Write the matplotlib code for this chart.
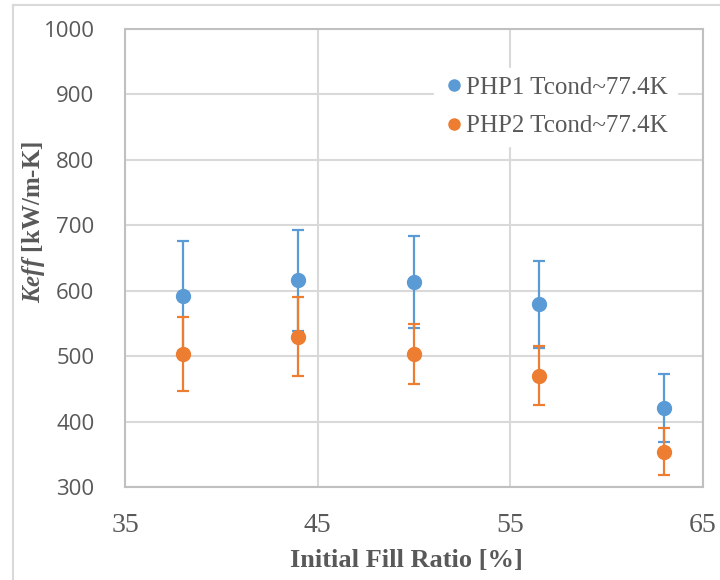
import matplotlib
matplotlib.use("Agg")
import matplotlib.pyplot as plt
from matplotlib.lines import Line2D

plt.rcParams["mathtext.fontset"] = "custom"
plt.rcParams["mathtext.it"] = "Liberation Serif:italic:bold"
plt.rcParams["mathtext.rm"] = "Liberation Serif:bold"
plt.rcParams["mathtext.bf"] = "Liberation Serif:bold"

# Data
fill_ratio = [38, 44, 50, 56.5, 63]
php1_keff = [592, 616, 613, 579, 421]
php1_err = [84, 77, 70, 67, 52]
php2_keff = [503, 530, 503, 470, 354]
php2_err = [57, 61, 46, 45, 36]
series_labels = ["PHP1 Tcond~77.4K", "PHP2 Tcond~77.4K"]
x_ticks = [35, 45, 55, 65]
y_ticks = [300, 400, 500, 600, 700, 800, 900, 1000]

blue = "#5b9bd5"
orange = "#ed7d31"
grid_c = "#d9d9d9"
text_c = "#595959"

fig = plt.figure(figsize=(7.2, 5.8), dpi=100)
ax = fig.add_axes([125/720, 1 - 487/580, (703-125)/720, (487-29)/580])

for x, y, e, c in [(fill_ratio, php1_keff, php1_err, blue),
                   (fill_ratio, php2_keff, php2_err, orange)]:
    ax.errorbar(x, y, yerr=e, fmt="o", color=c, ecolor=c, markersize=10,
                elinewidth=1.6, capsize=4, capthick=1.6, zorder=3)

ax.set_xlim(35, 65)
ax.set_ylim(300, 1000)
ax.set_xticks(x_ticks)
ax.set_yticks(y_ticks)
ax.set_xticklabels([str(v) for v in x_ticks], fontfamily="Liberation Serif",
                   fontsize=20, color=text_c)
ax.set_yticklabels([str(v) for v in y_ticks], fontfamily="Open Sans",
                   fontsize=16, color=text_c)
ax.grid(True, color=grid_c, linewidth=1.5, zorder=0)
ax.set_axisbelow(True)
for s in ax.spines.values():
    s.set_color("#c0c0c0")
    s.set_linewidth(1.5)
ax.tick_params(length=0)
ax.tick_params(axis="x", pad=19)
ax.tick_params(axis="y", pad=22)

fig.text(406/720, 1 - 561/580, "Initial Fill Ratio [%]", ha="center", va="center",
         fontfamily="Liberation Serif", fontweight="bold", fontsize=19, color=text_c)
fig.text(34/720, 1 - 222/580, r"$\mathit{Keff}$ [kW/m-K]", rotation=90,
         ha="center", va="center", fontfamily="Liberation Serif", fontweight="bold",
         fontsize=18, color=text_c)

handles = [Line2D([], [], marker="o", linestyle="none", color=blue, markersize=8),
           Line2D([], [], marker="o", linestyle="none", color=orange, markersize=8)]
leg = ax.legend(handles, series_labels, loc="upper left",
                bbox_to_anchor=((421-125)/578, 1 - (55-29)/458),
                frameon=True, framealpha=1, edgecolor="white", facecolor="white",
                prop={"family": "Liberation Serif", "size": 18},
                handletextpad=0.05, handlelength=0.9, labelspacing=0.65,
                borderpad=0.35, fancybox=False)
for t in leg.get_texts():
    t.set_color(text_c)

# outer chart border (top and left)
fig.add_artist(Line2D([13/720, 1], [1 - 5/580, 1 - 5/580], color="#d9d9d9", linewidth=1.5,
                      transform=fig.transFigure))
fig.add_artist(Line2D([13/720, 13/720], [0, 1 - 5/580], color="#d9d9d9", linewidth=1.5,
                      transform=fig.transFigure))

fig.savefig("out.png", dpi=100)
